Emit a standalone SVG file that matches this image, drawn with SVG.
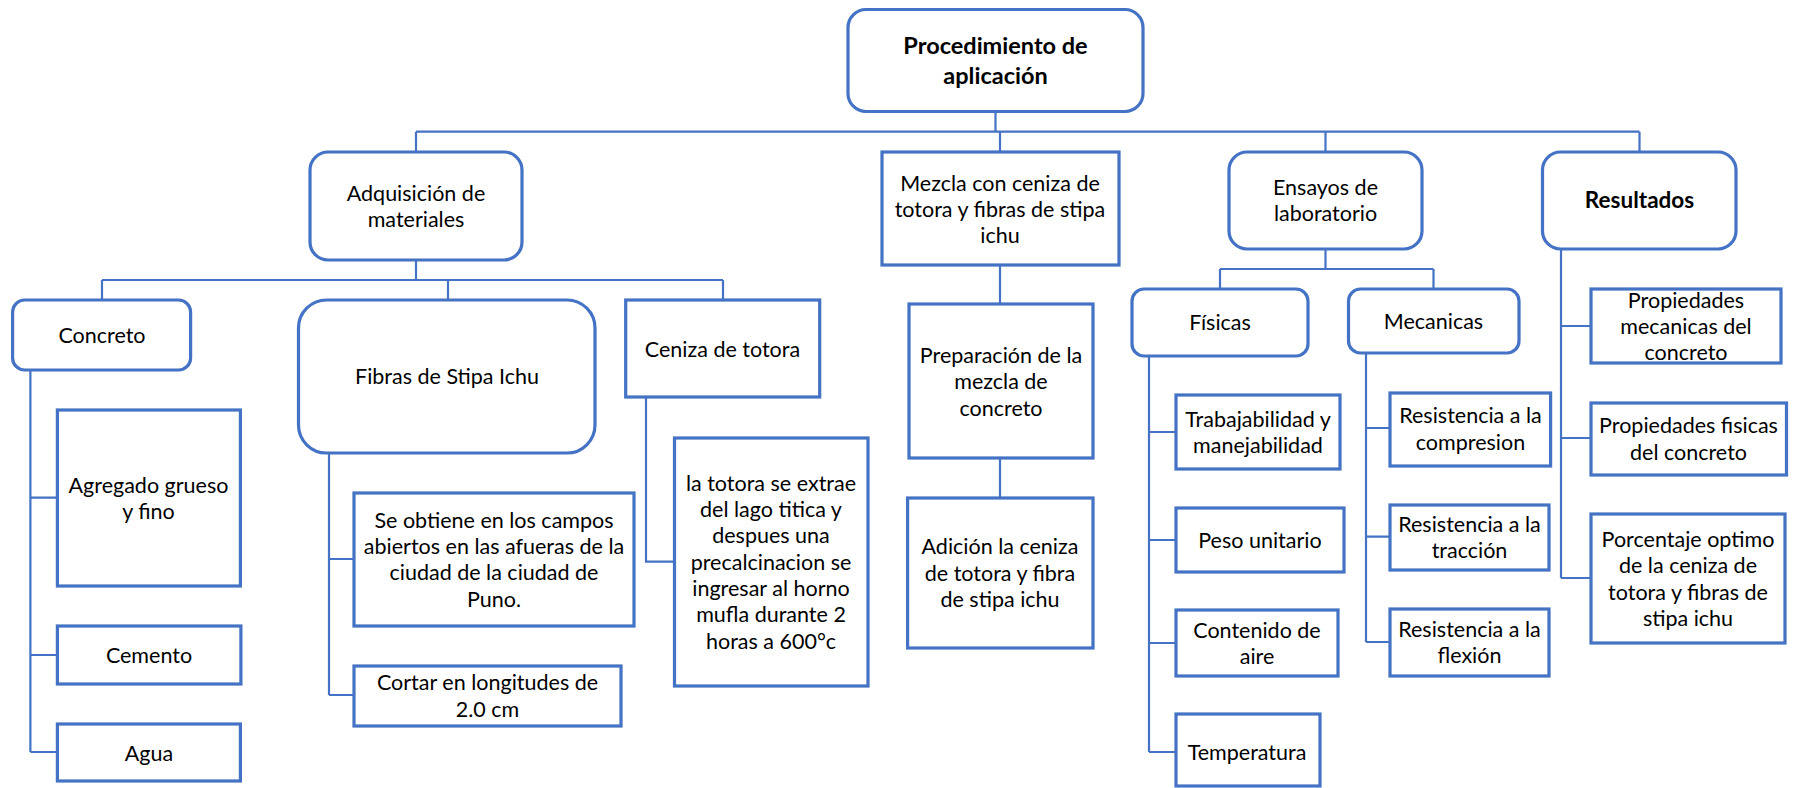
<svg xmlns="http://www.w3.org/2000/svg" width="1795" height="788" viewBox="0 0 1795 788">
<style>
.box{fill:#fff;stroke:#4472C4;stroke-width:3.2}
.conn{fill:none;stroke:#4472C4;stroke-width:2.2}
text{font-family:Lato,"Open Sans",sans-serif;font-size:21.5px;fill:#000;text-anchor:middle}
.b{font-weight:bold;font-size:23.5px}
.r{font-weight:bold;font-size:22.5px}
</style>
<rect width="1795" height="788" fill="#fff"/>
<g id="connectors" class="conn">
<path d="M995.5,112V131.7M416,131.7H1639.5M416,131.7V152M1000,131.7V152M1325.5,131.7V152M1639.5,131.7V152"/>
<path d="M416,260V280M102,280H723M102,280V300M448,280V300M723,280V300"/>
<path d="M30.4,370V752M30.4,497.7H57.4M30.4,655H57.4M30.4,752H57.4"/>
<path d="M329,453V695M329,559H354M329,695H354"/>
<path d="M646,397V561.7H674.5"/>
<path d="M1000,265V304M1000,458V498"/>
<path d="M1325.5,249V269M1220,269H1433.5M1220,269V289M1433.5,269V289"/>
<path d="M1149,356V752M1149,432H1176M1149,540H1176M1149,643H1176M1149,752H1176"/>
<path d="M1366,353V642M1366,428H1390M1366,536.7H1390M1366,642H1390"/>
<path d="M1561,249V578M1561,326H1591M1561,438H1591M1561,578H1591"/>
</g>
<g id="procedimiento"><rect class="box" x="848" y="9.5" width="295" height="102" rx="18"/><text class="b" x="995.5" y="53.5">Procedimiento de</text><text class="b" x="995.5" y="83.5">aplicación</text></g>
<g id="adquisicion"><rect class="box" x="310" y="152" width="212" height="108" rx="18"/><text x="416" y="201">Adquisición de</text><text x="416" y="227">materiales</text></g>
<g id="mezcla"><rect class="box" x="882" y="152" width="237" height="113"/><text x="1000" y="190.5">Mezcla con ceniza de</text><text x="1000" y="217">totora y fibras de stipa</text><text x="1000" y="243">ichu</text></g>
<g id="ensayos"><rect class="box" x="1229" y="152" width="193" height="97" rx="18"/><text x="1325.5" y="195">Ensayos de</text><text x="1325.5" y="221">laboratorio</text></g>
<g id="resultados"><rect class="box" x="1542.5" y="152" width="193.5" height="97" rx="18"/><text class="r" x="1639.5" y="208">Resultados</text></g>
<g id="concreto"><rect class="box" x="12.6" y="300" width="178" height="70" rx="12"/><text x="102" y="343">Concreto</text></g>
<g id="fibras"><rect class="box" x="298.5" y="300" width="296.5" height="153" rx="28"/><text x="447" y="384">Fibras de Stipa Ichu</text></g>
<g id="ceniza"><rect class="box" x="625.7" y="300" width="194" height="97"/><text x="722.5" y="357">Ceniza de totora</text></g>
<g id="fisicas"><rect class="box" x="1132" y="289" width="176" height="67" rx="12"/><text x="1220" y="330">Físicas</text></g>
<g id="mecanicas"><rect class="box" x="1348.5" y="289" width="170.5" height="64" rx="12"/><text x="1433.5" y="328.5">Mecanicas</text></g>
<g id="prop-mecanicas"><rect class="box" x="1591" y="289" width="190" height="74"/><text x="1686" y="308">Propiedades</text><text x="1686" y="334">mecanicas del</text><text x="1686" y="359.5">concreto</text></g>
<g id="agregado"><rect class="box" x="57.4" y="410" width="183" height="176"/><text x="148.5" y="493">Agregado grueso</text><text x="148.5" y="519">y fino</text></g>
<g id="cemento"><rect class="box" x="57.4" y="626" width="183.5" height="58"/><text x="149" y="663">Cemento</text></g>
<g id="agua"><rect class="box" x="57.4" y="724" width="183" height="57"/><text x="149" y="761">Agua</text></g>
<g id="se-obtiene"><rect class="box" x="354" y="493" width="280" height="133"/><text x="494" y="528">Se obtiene en los campos</text><text x="494" y="554">abiertos en las afueras de la</text><text x="494" y="580">ciudad de la ciudad de</text><text x="494" y="606.5">Puno.</text></g>
<g id="cortar"><rect class="box" x="354" y="666" width="267" height="60"/><text x="487.5" y="690">Cortar en longitudes de</text><text x="487.5" y="716.5">2.0 cm</text></g>
<g id="la-totora"><rect class="box" x="674.5" y="438" width="193.5" height="248"/><text x="771" y="491">la totora se extrae</text><text x="771" y="517">del lago titica y</text><text x="771" y="543">despues una</text><text x="771" y="570">precalcinacion se</text><text x="771" y="596">ingresar al horno</text><text x="771" y="622">mufla durante 2</text><text x="771" y="648.5">horas a 600°c</text></g>
<g id="preparacion"><rect class="box" x="909" y="304" width="184" height="154"/><text x="1001" y="363">Preparación de la</text><text x="1001" y="389">mezcla de</text><text x="1001" y="416">concreto</text></g>
<g id="adicion"><rect class="box" x="907.6" y="498" width="185.4" height="150"/><text x="1000" y="554">Adición la ceniza</text><text x="1000" y="580.5">de totora y fibra</text><text x="1000" y="607">de stipa ichu</text></g>
<g id="trabajabilidad"><rect class="box" x="1176" y="395" width="164" height="74"/><text x="1258" y="427">Trabajabilidad y</text><text x="1258" y="453">manejabilidad</text></g>
<g id="peso"><rect class="box" x="1176" y="508" width="168" height="64"/><text x="1260" y="548">Peso unitario</text></g>
<g id="contenido"><rect class="box" x="1176" y="610" width="162" height="66"/><text x="1257" y="638">Contenido de</text><text x="1257" y="664">aire</text></g>
<g id="temperatura"><rect class="box" x="1176" y="714" width="144" height="72"/><text x="1247" y="759.5">Temperatura</text></g>
<g id="compresion"><rect class="box" x="1390" y="393" width="160.6" height="73"/><text x="1470.5" y="423">Resistencia a la</text><text x="1470.5" y="449.5">compresion</text></g>
<g id="traccion"><rect class="box" x="1390" y="505" width="159" height="65"/><text x="1469.5" y="532">Resistencia a la</text><text x="1469.5" y="558">tracción</text></g>
<g id="flexion"><rect class="box" x="1390" y="609" width="159" height="67"/><text x="1469.5" y="637">Resistencia a la</text><text x="1469.5" y="663">flexión</text></g>
<g id="prop-fisicas"><rect class="box" x="1591" y="403" width="195.5" height="72"/><text x="1688.5" y="433">Propiedades fisicas</text><text x="1688.5" y="459.5">del concreto</text></g>
<g id="porcentaje"><rect class="box" x="1591" y="514" width="194" height="129"/><text x="1688" y="547">Porcentaje optimo</text><text x="1688" y="573">de la ceniza de</text><text x="1688" y="599.5">totora y fibras de</text><text x="1688" y="625.5">stipa ichu</text></g>
</svg>
